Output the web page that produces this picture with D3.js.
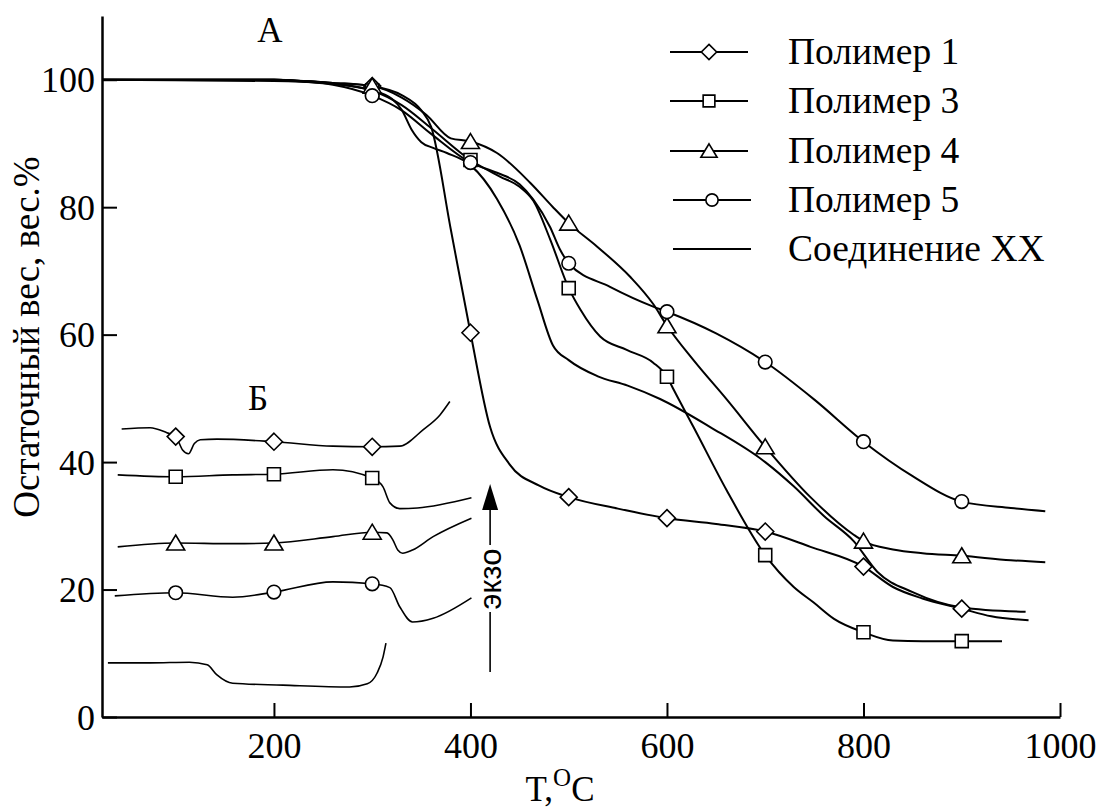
<!DOCTYPE html>
<html><head><meta charset="utf-8">
<script src="https://cdn.jsdelivr.net/npm/d3@7"></script>
<style>body{margin:0;background:#fff}</style>
</head><body><svg id="c" width="1102" height="812"></svg>
<script>
// ---------- data ----------
const xTicksMajor = [200, 400, 600, 800, 1000];
const xTicksMinor = [100, 300, 500, 700, 900];
const yTicksMajor = [0, 20, 40, 60, 80, 100];
const yTicksMinor = [10, 30, 50, 70, 90];
const seriesNames = ["Полимер 1", "Полимер 3", "Полимер 4", "Полимер 5", "Соединение XX"];
const seriesSymbols = ["diamond", "square", "triangle", "circle", "none"];
const tgaMarkerTemps = [300, 400, 500, 600, 700, 800, 900];
const dscMarkerTemps = [100, 200, 300];

// Panel A: TGA, residual weight (%) vs T (°C)
const tgaP1 = [[25,100],[100,100],[200,100],[230,99.8],[260,99.5],[300,99],[330,97.6],[350,95.2],[360,92.6],[380,76.5],[400,60.3],[420,45.5],[440,39.6],[470,36.3],[500,34.5],[550,32.7],[600,31.2],[650,30.3],[700,29.1],[746,26.7],[800,23.6],[830,20.4],[860,18.6],[900,17],[930,15.8],[968,15.2]];
const tgaP3 = [[25,100],[100,100],[200,100],[230,99.8],[260,99.4],[300,98.3],[330,96],[360,92.4],[400,87.4],[430,84.8],[450,83.2],[464,81],[481,75],[500,67.3],[512,63.9],[532,59.7],[559,57.6],[586,55.6],[600,53.4],[607,51.3],[627,45.5],[661,35.5],[700,25.4],[729,20.4],[749,18],[770,15.4],[800,13.3],[830,12],[860,11.9],[900,11.9],[941,11.9]];
const tgaP4 = [[25,100],[100,100],[200,100],[230,99.8],[260,99.5],[300,99],[330,97.2],[355,94.5],[380,90.8],[400,90.3],[427,88.5],[461,83.8],[484,80],[500,77.5],[529,73.8],[563,69],[586,64.8],[600,61.4],[627,56],[661,49.8],[700,42.4],[746,34.5],[790,28.6],[800,27.6],[830,26.3],[860,25.7],[900,25.3],[950,24.6],[985,24.3]];
const tgaP5 = [[25,100],[100,100],[200,100],[230,99.7],[260,99.2],[300,97.5],[330,95.2],[360,91.5],[400,87],[427,85.4],[450,83.6],[464,81.2],[481,76.9],[491,73.4],[500,71.2],[542,67.5],[586,64.4],[600,63.6],[650,60.2],[700,55.7],[750,49.8],[800,43.2],[850,37.8],[900,33.8],[950,32.8],[985,32.3]];
const tgaXX = [[25,100],[100,99.9],[200,99.8],[250,99.5],[300,98.3],[320,97],[330,95.3],[340,92.2],[350,90.2],[362,89.3],[376,88.5],[400,86.6],[427,81.3],[450,74],[468,65.5],[484,58.3],[500,56],[529,53.5],[560,52],[593,49.9],[644,45.5],[700,40],[729,36.2],[760,31.5],[790,27.6],[814,22.8],[850,19.6],[900,17.2],[965,16.5]];

// Panel Б: DSC traces (arbitrary units, offset), same T axis
const dscP1 = [[45,45.2],[74,45.4],[91,44.6],[100,44],[107,41.9],[113,41.3],[119,42.9],[125,43.5],[142,43.6],[200,43.2],[260,42.5],[300,42.4],[328,42.5],[352,45.1],[369,47.4],[379,49.5]];
const dscP3 = [[41,38],[100,37.7],[158,38],[200,38.1],[260,38.8],[300,37.5],[311,36.1],[318,33.6],[328,32.7],[346,32.8],[401,34.4]];
const dscP4 = [[41,26.7],[100,27.3],[158,27.2],[200,27.3],[260,28.3],[300,29],[315,28.9],[321,27.8],[326,26.2],[331,25.7],[341,26.2],[362,28.3],[401,31.2]];
const dscP5 = [[38,19],[100,19.5],[158,18.8],[200,19.6],[260,21.2],[300,20.9],[318,20.3],[328,17.3],[341,14.9],[362,15.5],[401,18.7]];
const dscXX = [[31,8.5],[74,8.5],[114,8.6],[132,8.2],[142,6.6],[158,5.3],[209,5],[277,4.7],[295,5.2],[305,6.9],[311,9.4],[314,11.6]];

const tgaSeries = [tgaP1, tgaP3, tgaP4, tgaP5, tgaXX];
const dscSeries = [dscP1, dscP3, dscP4, dscP5, dscXX];

// ---------- drawing ----------
const SERIF = '"Liberation Serif"';
const SANS = '"Liberation Sans"';
const svg = d3.select("#c");
const x = d3.scaleLinear().domain([25, 1000]).range([102, 1060]);
const y = d3.scaleLinear().domain([0, 110]).range([717, 16]);

function symPath(type) {
  if (type === "diamond") return "M0,-8.5L8.5,0L0,8.5L-8.5,0Z";
  if (type === "square") return "M-6.5,-6.5H6.5V6.5H-6.5Z";
  if (type === "triangle") return "M0,-8L9,7H-9Z";
  if (type === "circle") return "M6.8,0A6.8,6.8 0 1,1 -6.8,0A6.8,6.8 0 1,1 6.8,0Z";
  return null;
}

const line = d3.line().x(d => x(d[0])).y(d => y(d[1])).curve(d3.curveMonotoneX);

tgaSeries.forEach(s => {
  svg.append("path").attr("d", line(s)).attr("fill", "none")
    .attr("stroke", "#000").attr("stroke-width", 2);
});
dscSeries.forEach(s => {
  svg.append("path").attr("d", line(s)).attr("fill", "none")
    .attr("stroke", "#000").attr("stroke-width", 1.6);
});
function drawMarkers(series, temps) {
  series.forEach((s, i) => {
    const p = symPath(seriesSymbols[i]);
    if (!p) return;
    s.filter(d => temps.includes(d[0])).forEach(d => {
      svg.append("path").attr("d", p)
        .attr("transform", `translate(${x(d[0])},${y(d[1])})`)
        .attr("fill", "#fff").attr("stroke", "#000").attr("stroke-width", 1.6);
    });
  });
}
drawMarkers(tgaSeries, tgaMarkerTemps);
drawMarkers(dscSeries, dscMarkerTemps);

// axes
const gx = svg.append("g").attr("transform", `translate(0,${y(0)})`);
gx.call(d3.axisBottom(x).tickValues(xTicksMinor).tickSize(-7).tickSizeOuter(0).tickFormat(""));
gx.call(d3.axisBottom(x).tickValues(xTicksMajor).tickSize(-14).tickSizeOuter(0).tickPadding(15).tickFormat(d3.format("d")));
const gy = svg.append("g").attr("transform", `translate(${x(25)},0)`);
gy.call(d3.axisLeft(y).tickValues(yTicksMinor).tickSize(-8).tickSizeOuter(0).tickFormat(""));
gy.call(d3.axisLeft(y).tickValues(yTicksMajor).tickSize(-15).tickSizeOuter(0).tickPadding(7).tickFormat(d3.format("d")));
[gx, gy].forEach(g => {
  g.attr("font-family", null).attr("font-size", null);
  g.selectAll(".domain").attr("stroke-width", 2.5);
  g.selectAll(".tick line").attr("stroke-width", 2);
  g.selectAll("text").style("font-family", SERIF).attr("font-size", 36).attr("fill", "#000");
});
gy.selectAll("text").attr("dy", "0.34em");

function txt(sel) { return sel.style("font-family", SERIF).attr("fill", "#000"); }

// axis titles
txt(svg.append("text")).attr("transform", "translate(39,337) rotate(-90)")
  .attr("text-anchor", "middle").attr("font-size", 37)
  .text("Остаточный вес, вес.%");
const xt = txt(svg.append("text")).attr("x", 560).attr("y", 801).attr("text-anchor", "middle")
  .attr("font-size", 35);
xt.append("tspan").text("T,");
xt.append("tspan").attr("dy", -15).attr("font-size", 25).text("O");
xt.append("tspan").attr("dy", 15).text("C");

// panel labels
txt(svg.append("text")).attr("x", 270).attr("y", 42).attr("text-anchor", "middle")
  .attr("font-size", 35).text("A");
txt(svg.append("text")).attr("x", 258).attr("y", 410).attr("text-anchor", "middle")
  .attr("font-size", 35).text("Б");

// exo arrow
const ax = x(420);
svg.append("line").attr("x1", ax).attr("x2", ax).attr("y1", 672).attr("y2", 612).attr("stroke", "#000").attr("stroke-width", 1.6);
svg.append("line").attr("x1", ax).attr("x2", ax).attr("y1", 545).attr("y2", 508).attr("stroke", "#000").attr("stroke-width", 1.6);
svg.append("path").attr("d", `M${ax},484L${ax + 8},510L${ax - 8},510Z`).attr("fill", "#000");
svg.append("text").style("font-family", SANS).attr("transform", `translate(${ax + 11},579) rotate(-90)`)
  .attr("text-anchor", "middle").attr("font-size", 31).text("экзо");

// legend
const legY = [52, 101, 151, 200, 249];
seriesNames.forEach((n, i) => {
  const g = svg.append("g").attr("transform", `translate(0,${legY[i]})`);
  const off = i >= 3 ? 3 : 0;
  g.append("line").attr("x1", 670 + off).attr("x2", 748 + off).attr("stroke", "#000").attr("stroke-width", 2);
  const p = symPath(seriesSymbols[i]);
  if (p) g.append("path").attr("d", p).attr("transform", `translate(${709 + off},0) scale(0.9)`)
    .attr("fill", "#fff").attr("stroke", "#000").attr("stroke-width", 1.8);
  txt(g.append("text")).attr("x", 788).attr("y", 12).attr("font-size", 37.5).text(n);
});
</script></body></html>
